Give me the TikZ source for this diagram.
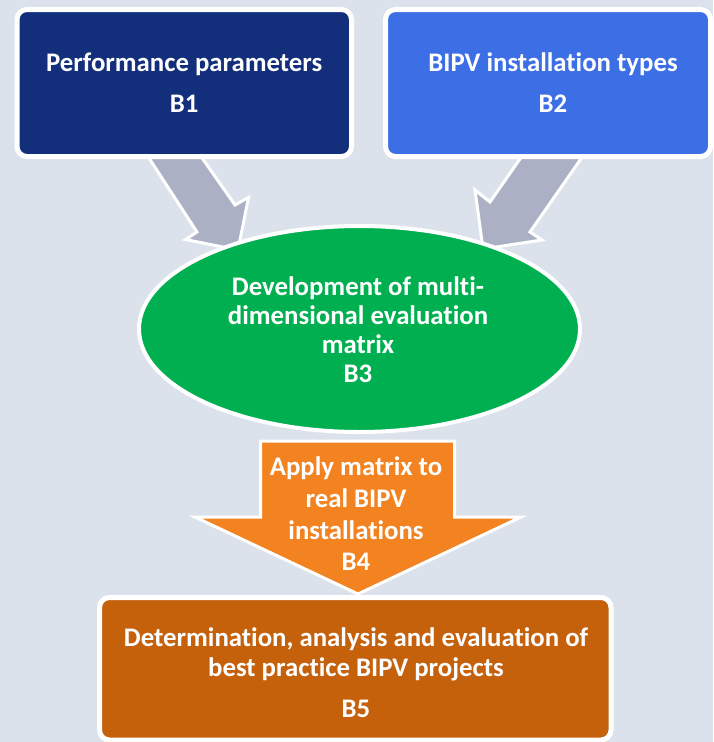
\documentclass[tikz,border=0pt]{standalone}
\usepackage{fontspec}
\setmainfont{Carlito}[Ligatures=NoCommon]
\usetikzlibrary{shapes.geometric}

\definecolor{bgcol}{RGB}{220,226,236}
\definecolor{navy}{RGB}{19,47,123}
\definecolor{brightblue}{RGB}{60,110,230}
\definecolor{arrowgray}{RGB}{172,176,196}
\definecolor{matrixgreen}{RGB}{0,176,80}
\definecolor{applyorange}{RGB}{243,130,32}
\definecolor{resultbrown}{RGB}{197,96,11}

\newcommand\diagfont{\fontsize{26.8}{29}\selectfont\bfseries}

\tikzset{
  boxstyle/.style={rectangle, rounded corners=10pt, draw=white, line width=5pt,
    inner sep=0pt, text=white, align=center, font=\diagfont},
  blockarrow/.style={fill=arrowgray, draw=white, line width=3pt, line join=miter},
  labeltext/.style={text=white, align=center, font=\diagfont, inner sep=0pt},
}

\begin{document}
\begin{tikzpicture}[x=1pt, y=-1pt]
\useasboundingbox (0,0) rectangle (713,742);
\fill[bgcol] (0,0) rectangle (713,742);

% grey block arrows feeding the matrix (drawn first, they sit behind the boxes)
\coordinate (la1) at (124.3,120);
\coordinate (la2) at (175.5,120);
\coordinate (la3) at (235,205);
\coordinate (la4) at (248.5,197.5);
\coordinate (latip) at (238,250);
\coordinate (la6) at (185.5,239.5);
\coordinate (la7) at (197,232);
\draw[blockarrow] (la1) -- (la2) -- (la3) -- (la4) -- (latip) -- (la6) -- (la7) -- cycle;

\coordinate (ra1) at (547,120);
\coordinate (ra2) at (607.9,120);
\coordinate (ra3) at (530,232);
\coordinate (ra4) at (542,240);
\coordinate (ratip) at (483,249);
\coordinate (ra6) at (475,190);
\coordinate (ra7) at (490,202);
\draw[blockarrow] (ra1) -- (ra2) -- (ra3) -- (ra4) -- (ratip) -- (ra6) -- (ra7) -- cycle;

% input boxes
\node[boxstyle, fill=navy, minimum width=334.5pt, minimum height=147pt] (b1) at (184.25,83)
  {Performance parameters\\[12pt]B1};
\node[boxstyle, fill=brightblue, minimum width=325pt, minimum height=147pt] (b2) at (548,83) {};
\node[labeltext] (b2text) at (553,83) {BIPV installation types\\[12pt]B2};

% evaluation matrix
\node[ellipse, fill=matrixgreen, draw=white, line width=4pt, inner sep=0pt,
  minimum width=441pt, minimum height=206pt] (b3) at (359.5,329) {};
\node[labeltext] (b3text) at (358,330)
  {Development of multi-\\dimensional evaluation\\matrix\\B3};

% downward block arrow
\coordinate (oa1) at (260.5,441);
\coordinate (oa2) at (454.5,441);
\coordinate (oa3) at (454.5,517);
\coordinate (oa4) at (521,517);
\coordinate (oatip) at (358,594);
\coordinate (oa6) at (195,517);
\coordinate (oa7) at (260.5,517);
\draw[fill=applyorange, draw=white, line width=3pt, line join=miter]
  (oa1) -- (oa2) -- (oa3) -- (oa4) -- (oatip) -- (oa6) -- (oa7) -- cycle;
\node[labeltext, font=\fontsize{26.8}{31.7}\selectfont\bfseries] (b4text) at (356,514)
  {Apply matrix to\\real BIPV\\installations\\B4};

% result box
\node[boxstyle, fill=resultbrown, minimum width=511.5pt, minimum height=142.5pt] (b5) at (355.25,668.75) {};
\node[labeltext, font=\fontsize{26.8}{30}\selectfont\bfseries] (b5text) at (356,672.5)
  {Determination, analysis and evaluation of\\best practice BIPV projects\\[11pt]B5};
\end{tikzpicture}
\end{document}
